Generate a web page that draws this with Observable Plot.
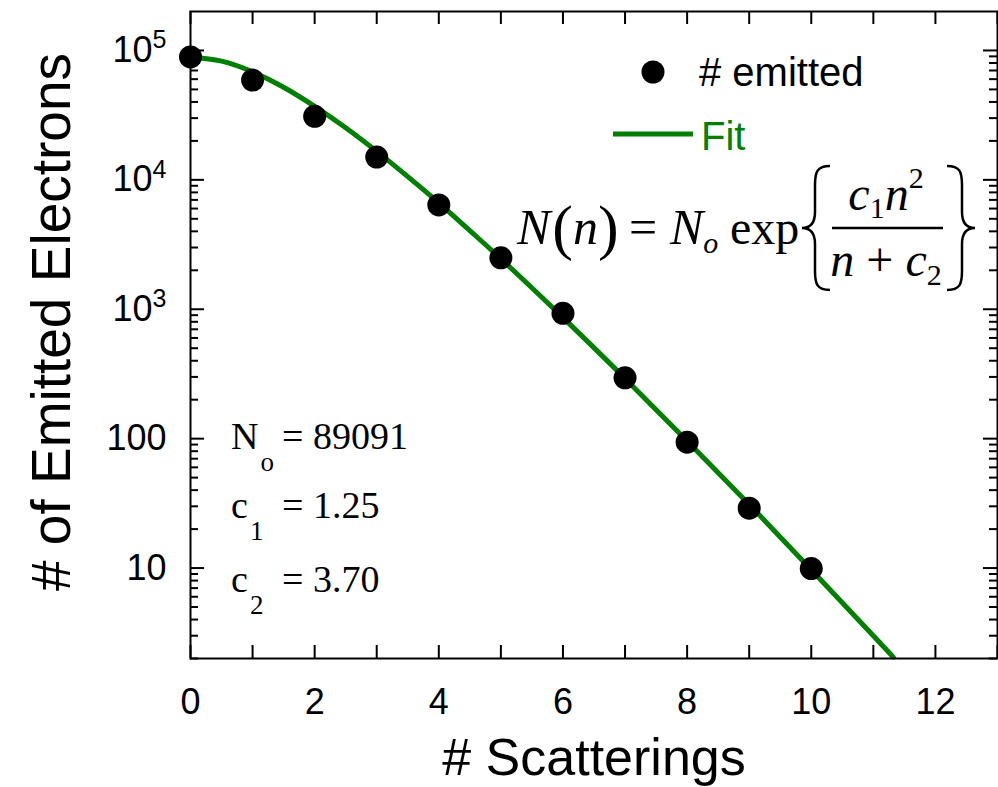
<!DOCTYPE html>
<html><head><meta charset="utf-8">
<script src="https://cdn.jsdelivr.net/npm/d3@7"></script>
<script src="https://cdn.jsdelivr.net/npm/@observablehq/plot@0.6"></script>
<style>
body{margin:0;background:#fff}
#chart{width:998px;height:787px}
</style>
</head><body><div id="chart"></div>
<script>
// ---- data ----
const scatterings = [0, 1, 2, 3, 4, 5, 6, 7, 8, 9, 10];
const emitted = [89091, 59000, 31000, 15000, 6400, 2500, 930, 295, 94, 29, 9.9];
const fitN = [0, 0.5, 1, 1.5, 2, 2.5, 3, 3.5, 4, 4.5, 5, 6, 7, 8, 9, 10, 11, 11.32];
const fitValues = [89091, 82700, 68300, 52000, 37000, 25300, 16600, 10600, 6640, 4050, 2455, 862, 292, 96, 31, 9.7, 3.0, 2.05];
const xTickValues = [0, 1, 2, 3, 4, 5, 6, 7, 8, 9, 10, 11, 12, 13];
const xTickLabels = [0, 2, 4, 6, 8, 10, 12];
const yMajorTicks = [10, 100, 1000, 10000, 100000];
const yTickLabels = ["10", "100", "10^3", "10^4", "10^5"];
const yMinorTicks = [2,3,4,5,6,7,8,9,20,30,40,50,60,70,80,90,200,300,400,500,600,700,800,900,
  2000,3000,4000,5000,6000,7000,8000,9000,20000,30000,40000,50000,60000,70000,80000,90000];
const params = [["N", "o", "89091"], ["c", "1", "1.25"], ["c", "2", "3.70"]];

const points = scatterings.map((n, i) => ({n, v: emitted[i]}));
const fit = fitN.map((n, i) => ({n, v: fitValues[i]}));

const W = 998, H = 787, mL = 190, mR = 1, mT = 11, mB = 129;
const innerW = W - mL - mR, innerH = H - mT - mB;
const green = "#008000";
const sans = "'Liberation Sans', Arial, Helvetica, sans-serif";
const serif = "'Liberation Serif', 'Times New Roman', serif";

const plot = Plot.plot({
  width: W, height: H,
  marginLeft: mL, marginRight: mR, marginTop: mT, marginBottom: mB,
  style: {fontFamily: sans, background: "white", color: "black"},
  x: {domain: [0, 13], label: null},
  y: {type: "log", domain: [2, 2e5], label: null},
  marks: [
    Plot.tickX(xTickValues, {x: d => d, insetTop: innerH - 13, strokeWidth: 2}),
    Plot.tickX(xTickValues, {x: d => d, insetBottom: innerH - 13, strokeWidth: 2}),
    Plot.tickY(yMajorTicks, {y: d => d, insetRight: innerW - 14, strokeWidth: 2}),
    Plot.tickY(yMajorTicks, {y: d => d, insetLeft: innerW - 14, strokeWidth: 2}),
    Plot.tickY(yMinorTicks, {y: d => d, insetRight: innerW - 8, strokeWidth: 2}),
    Plot.tickY(yMinorTicks, {y: d => d, insetLeft: innerW - 8, strokeWidth: 2}),
    Plot.axisX(xTickLabels, {tickSize: 0, tickPadding: 30, fontSize: 36, label: null, tickFormat: d => String(d)}),
    Plot.axisY(yMajorTicks, {tickSize: 0, tickPadding: 24, fontSize: 36, label: null,
      tickFormat: d => yTickLabels[yMajorTicks.indexOf(d)]}),
    Plot.line(fit, {x: "n", y: "v", stroke: green, strokeWidth: 5, curve: "natural"}),
    Plot.dot(points, {x: "n", y: "v", r: 11.5, fill: "black"}),
    Plot.frame({strokeWidth: 2})
  ]
});
document.getElementById("chart").append(plot);

const svg = d3.select(plot);
// superscripts on y tick labels
svg.selectAll("g[aria-label='y-axis tick label'] text").each(function() {
  const t = this.textContent;
  if (t.includes("^")) {
    const [b, e] = t.split("^");
    const el = d3.select(this);
    el.text(b);
    el.append("tspan").attr("dy", "-0.55em").attr("font-size", 25).text(e);
  }
});

const ann = svg.append("g").attr("text-anchor", "start");
// axis titles
ann.append("text").attr("transform", "translate(70,322) rotate(-90)")
  .attr("text-anchor", "middle").attr("font-family", sans).attr("font-size", 55)
  .text("# of Emitted Electrons");
ann.append("text").attr("x", 594).attr("y", 775)
  .attr("text-anchor", "middle").attr("font-family", sans).attr("font-size", 52)
  .text("# Scatterings");

// legend
ann.append("circle").attr("cx", 653).attr("cy", 72).attr("r", 11.5).attr("fill", "black");
ann.append("text").attr("x", 699).attr("y", 86).attr("font-family", sans).attr("font-size", 40).text("# emitted");
ann.append("line").attr("x1", 613).attr("x2", 693).attr("y1", 134).attr("y2", 134)
  .attr("stroke", green).attr("stroke-width", 5);
ann.append("text").attr("x", 701).attr("y", 150).attr("font-family", sans).attr("font-size", 40)
  .attr("fill", green).text("Fit");

// parameters
const baselines = [449, 518, 592];
params.forEach(([sym, sub, val], i) => {
  const t = ann.append("text").attr("x", 231).attr("y", baselines[i])
    .attr("font-family", serif).attr("font-size", 38);
  t.append("tspan").text(sym);
  t.append("tspan").attr("dy", 22).attr("font-size", 27).attr("dx", 2).text(sub);
  ann.append("text").attr("x", 282).attr("y", baselines[i])
    .attr("font-family", serif).attr("font-size", 38).text("= " + val);
});

// equation
const eq = ann.append("g").attr("font-family", serif);
const lhs = eq.append("text").attr("x", 517).attr("y", 244).attr("font-size", 50);
lhs.append("tspan").attr("font-style", "italic").text("N");
lhs.append("tspan").attr("font-size", 62).attr("dy", 4).attr("dx", 2).text("(");
lhs.append("tspan").attr("font-style", "italic").attr("dy", -4).text("n");
lhs.append("tspan").attr("font-size", 62).attr("dy", 4).text(")");
eq.append("text").attr("x", 629).attr("y", 244).attr("font-size", 50).text("=");
const no = eq.append("text").attr("x", 670).attr("y", 244).attr("font-size", 50);
no.append("tspan").attr("font-style", "italic").text("N");
no.append("tspan").attr("font-style", "italic").attr("font-size", 30).attr("dy", 9).text("o");
eq.append("text").attr("x", 730).attr("y", 244).attr("font-size", 48).text("exp");
// braces
eq.append("path").attr("fill", "none").attr("stroke", "black").attr("stroke-width", 2.5)
  .attr("d", "M830,166 C817,166 815,172 815,185 L815,212 C815,222 811,228 802,228 C811,228 815,234 815,244 L815,271 C815,284 817,290 830,290");
eq.append("path").attr("fill", "none").attr("stroke", "black").attr("stroke-width", 2.5)
  .attr("d", "M947,166 C960,166 962,172 962,185 L962,212 C962,222 966,228 975,228 C966,228 962,234 962,244 L962,271 C962,284 960,290 947,290");
eq.append("line").attr("x1", 832).attr("x2", 943).attr("y1", 228).attr("y2", 228)
  .attr("stroke", "black").attr("stroke-width", 2.5);
const num = eq.append("text").attr("x", 886).attr("y", 210).attr("text-anchor", "middle").attr("font-size", 48);
num.append("tspan").attr("font-style", "italic").text("c");
num.append("tspan").attr("font-size", 30).attr("dy", 8).text("1");
num.append("tspan").attr("font-style", "italic").attr("dy", -8).text("n");
num.append("tspan").attr("font-size", 30).attr("dy", -22).text("2");
const den = eq.append("text").attr("x", 886).attr("y", 276).attr("text-anchor", "middle").attr("font-size", 48);
den.append("tspan").attr("font-style", "italic").text("n");
den.append("tspan").text(" + ");
den.append("tspan").attr("font-style", "italic").text("c");
den.append("tspan").attr("font-size", 30).attr("dy", 9).text("2");
</script>
</body></html>
